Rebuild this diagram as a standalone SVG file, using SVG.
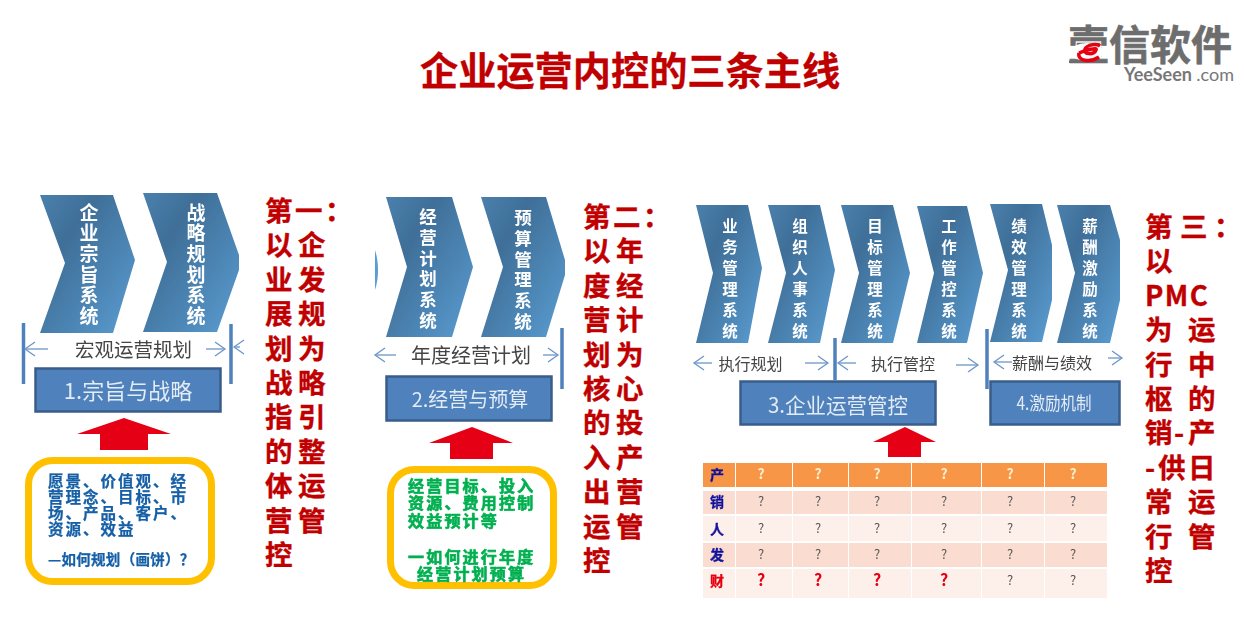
<svg xmlns="http://www.w3.org/2000/svg" width="1244" height="625" viewBox="0 0 1244 625">
<style>
text{font-family:"Noto Sans CJK SC","Noto Sans",sans-serif}
.title{font-size:38.200px;font-weight:700;fill:#c00000;stroke:#c00000;stroke-width:.3}
.side{font-size:27.500px;font-weight:700;fill:#c00000;stroke:#c00000;stroke-width:.35}
.v1,.v2,.v3{font-weight:700;fill:#fff;writing-mode:vertical-rl}
.v1{font-size:19px;letter-spacing:1.6px}
.v2{font-size:17.500px;letter-spacing:3.2px}
.v3{font-size:15.500px;letter-spacing:5.500px}
.lab{fill:#444;text-anchor:middle}
.boxt{fill:#e3ebf5;text-anchor:middle}
.box{fill:#4f81bd;stroke:#385d8a;stroke-width:2.5}
.round{fill:#fff;stroke:#ffc000;stroke-width:7}
.chev{fill:url(#cg)}
.bar{stroke:#4f81bd;stroke-width:3.5}
.arr{stroke:#6d95c8;stroke-width:1.3;fill:none;marker-end:url(#open)}
.red{fill:#e60012}
.blue{font-size:15.500px;letter-spacing:2px;font-weight:700;fill:#135fa6;stroke:#135fa6;stroke-width:.25}
.blue2{font-size:14.500px;letter-spacing:.3px;font-weight:700;fill:#135fa6;stroke:#135fa6;stroke-width:.25}
.green{font-size:16px;letter-spacing:2.200px;font-weight:700;fill:#00b050;stroke:#00b050;stroke-width:.6}
.hd{fill:#f79646}.r1{fill:#fbdcd0}.r2{fill:#fdefe9}
.rowl{font-size:14px;font-weight:700;fill:#12129c;stroke:#12129c;stroke-width:.3;text-anchor:middle}
.q{font-size:13px;fill:#555;text-anchor:middle}
.qh{font-size:14px;font-weight:700;fill:#fdeecb;text-anchor:middle}
.qr{font-size:16px;font-weight:700;fill:#e60012;text-anchor:middle}
</style>
<defs>
<linearGradient id="cg" x1="0" y1="0" x2="1" y2="1">
<stop offset="0" stop-color="#4a80ad"/><stop offset=".3" stop-color="#3f6f98"/><stop offset="1" stop-color="#5a9dd2"/>
</linearGradient>
<marker id="open" markerUnits="userSpaceOnUse" markerWidth="14" markerHeight="16" refX="12" refY="8" orient="auto">
<path d="M2 1L12 8L2 15" fill="none" stroke="#6d95c8" stroke-width="1.3"/>
</marker>
<filter id="soft" x="-2%" y="-2%" width="104%" height="104%"><feGaussianBlur stdDeviation="0.45"/></filter>
</defs>

<text class="title" x="420" y="85">企业运营内控的三条主线</text>

<g id="logo">
<text x="1068" y="60" font-size="41" font-weight="700" fill="#6d6d6d" stroke="#6d6d6d" stroke-width=".6">壹信软件</text>
<ellipse cx="1087" cy="52" rx="17" ry="9" fill="#fff"/>
<rect x="1069" y="60.500" width="36" height="2.500" fill="#6d6d6d"/>
<path d="M1079 53C1086 50 1098 47 1096 50C1094 55 1083 55 1085 49C1087 45 1096 43 1100 46M1079 53C1077 61 1090 63 1099 57" fill="none" stroke="#e60012" stroke-width="3.500"/>
<text x="1124" y="81" font-size="18" font-weight="700" fill="#777" style="font-family:Lato,sans-serif">YeeSeen <tspan font-weight="400">.com</tspan></text>
</g>

<g id="section-1" filter="url(#soft)">
<g id="chevron-1-1"><polygon class="chev" points="40,195 113,195 135,260 113,333 40,333 65,263"/><text class="v1" x="89" y="203">企业宗旨系统</text></g>
<g id="chevron-1-2"><polygon class="chev" points="143,193 217,193 239,255 239,270 217,332 143,332 167,262"/><text class="v1" x="196" y="203">战略规划系统</text></g>
<text class="lab" x="133.500" y="357" font-size="19.500">宏观运营规划</text>
<g id="box-1"><rect class="box" x="35.500" y="368.500" width="185" height="43"/><text class="boxt" x="128" y="399" font-size="22">1.宗旨与战略</text></g>
<g id="note-1"><rect class="round" x="28.500" y="460.500" width="183" height="121" rx="24"/>
<text class="blue" x="48" y="487">愿景、价值观、经</text><text class="blue" x="48" y="503">营理念、目标、市</text><text class="blue" x="48" y="519">场、产品、客户、</text><text class="blue" x="48" y="535">资源、效益</text>
<text class="blue2" x="48" y="565">—如何规划（画饼）？</text></g>
</g>

<g id="section-2" filter="url(#soft)">
<g id="chevron-2-0"><path d="M375 250C379 262 379 278 375 290Z" fill="#5a9dd2"/></g>
<g id="chevron-2-1"><polygon class="chev" points="386,197 452,197 473,267 452,337 386,337 407,267"/><text class="v2" x="428" y="208">经营计划系统</text></g>
<g id="chevron-2-2"><polygon class="chev" points="481,197 546,197 565,260 565,275 546,337 481,337 503,267"/><text class="v2" x="523" y="209">预算管理系统</text></g>
<text class="lab" x="471" y="363" font-size="20">年度经营计划</text>
<g id="box-2"><rect class="box" x="386.500" y="376.500" width="165" height="44"/><text class="boxt" x="470" y="407" font-size="20">2.经营与预算</text></g>
<g id="note-2"><rect class="round" x="390.500" y="469.500" width="163" height="116" rx="24"/>
<text class="green" x="408" y="492">经营目标、投入</text><text class="green" x="408" y="509">资源、费用控制</text><text class="green" x="408" y="527">效益预计等</text>
<text class="green" x="408" y="563">一如何进行年度</text><text class="green" x="417" y="580">经营计划预算</text></g>
</g>

<g id="section-3" filter="url(#soft)">
<g id="chevron-3-1"><polygon class="chev" points="696,205 748,205 762,268 748,343 696,343 713,273"/><text class="v3" x="730" y="218">业务管理系统</text></g>
<g id="chevron-3-2"><polygon class="chev" points="768,205 820,205 835,270 820,343 768,343 786,273"/><text class="v3" x="800" y="218">组织人事系统</text></g>
<g id="chevron-3-3"><polygon class="chev" points="841,205 893,205 910,273 893,343 841,343 859,273"/><text class="v3" x="875" y="218">目标管理系统</text></g>
<g id="chevron-3-4"><polygon class="chev" points="917,206 967,206 983,273 967,343 917,343 934,273"/><text class="v3" x="949" y="218">工作管控系统</text></g>
<g id="chevron-3-5"><polygon class="chev" points="990,204 1042,204 1052,245 1052,300 1042,342 990,342 1008,270"/><text class="v3" x="1019" y="218">绩效管理系统</text></g>
<g id="chevron-3-6"><polygon class="chev" points="1057,205 1110,205 1120,240 1120,300 1110,343 1057,343 1075,273"/><text class="v3" x="1090" y="218">薪酬激励系统</text></g>
<text class="lab" x="750.500" y="370" font-size="16">执行规划</text>
<text class="lab" x="903" y="370" font-size="16">执行管控</text>
<text class="lab" x="1052" y="369" font-size="16">薪酬与绩效</text>
<g id="box-3"><rect class="box" x="740.500" y="381.500" width="195" height="43"/><text class="boxt" x="838" y="413" font-size="21" textLength="140" lengthAdjust="spacingAndGlyphs">3.企业运营管控</text></g>
<g id="box-4"><rect class="box" x="990.500" y="381.500" width="129" height="43"/><text class="boxt" x="1054" y="410" font-size="18" textLength="75" lengthAdjust="spacingAndGlyphs">4.激励机制</text></g>
</g>

<g id="connectors" filter="url(#soft)">
<line class="bar" x1="23.500" y1="323" x2="23.500" y2="384"/>
<line class="bar" x1="231" y1="324" x2="231" y2="384"/>
<line class="arr" x1="48" y1="349" x2="25" y2="349"/>
<line class="arr" x1="206" y1="349" x2="225" y2="349"/>
<line class="arr" x1="240" y1="347" x2="234" y2="347"/>
<polygon class="red" points="124,418 171,434 148,434 148,450 100,450 100,434 77,434"/>
<line class="bar" x1="562" y1="328" x2="562" y2="389"/>
<line class="arr" x1="396" y1="355" x2="375" y2="355"/>
<line class="arr" x1="543" y1="355" x2="558" y2="355"/>
<polygon class="red" points="472,427 513,443 493,443 493,459 450,459 450,443 429,443"/>
<line class="bar" x1="835" y1="338" x2="835" y2="380"/>
<line class="bar" x1="987" y1="329" x2="987" y2="389"/>
<line class="arr" x1="712" y1="363" x2="694" y2="363"/>
<line class="arr" x1="805" y1="363" x2="828" y2="363"/>
<line class="arr" x1="856" y1="363" x2="838" y2="363"/>
<line class="arr" x1="956" y1="365" x2="978" y2="365"/>
<line class="arr" x1="1012" y1="362" x2="994" y2="362"/>
<line class="arr" x1="1108" y1="358" x2="1122" y2="358"/>
<polygon class="red" points="905,427 936,442 921,442 921,457 888,457 888,442 873,442"/>
</g>

<g id="table" filter="url(#soft)">
<g class="hd"><rect x="703" y="463" width="32" height="24"/><rect x="736" y="463" width="56" height="24"/><rect x="793" y="463" width="55" height="24"/><rect x="849" y="463" width="62" height="24"/><rect x="912" y="463" width="69" height="24"/><rect x="982" y="463" width="62" height="24"/><rect x="1045" y="463" width="62" height="24"/></g>
<g class="r1"><rect x="703" y="491" width="32" height="23"/><rect x="736" y="491" width="56" height="23"/><rect x="793" y="491" width="55" height="23"/><rect x="849" y="491" width="62" height="23"/><rect x="912" y="491" width="69" height="23"/><rect x="982" y="491" width="62" height="23"/><rect x="1045" y="491" width="62" height="23"/></g>
<g class="r2"><rect x="703" y="516" width="32" height="25"/><rect x="736" y="516" width="56" height="25"/><rect x="793" y="516" width="55" height="25"/><rect x="849" y="516" width="62" height="25"/><rect x="912" y="516" width="69" height="25"/><rect x="982" y="516" width="62" height="25"/><rect x="1045" y="516" width="62" height="25"/></g>
<g class="r1"><rect x="703" y="543" width="32" height="24"/><rect x="736" y="543" width="56" height="24"/><rect x="793" y="543" width="55" height="24"/><rect x="849" y="543" width="62" height="24"/><rect x="912" y="543" width="69" height="24"/><rect x="982" y="543" width="62" height="24"/><rect x="1045" y="543" width="62" height="24"/></g>
<g class="r2"><rect x="703" y="569" width="32" height="29"/><rect x="736" y="569" width="56" height="29"/><rect x="793" y="569" width="55" height="29"/><rect x="849" y="569" width="62" height="29"/><rect x="912" y="569" width="69" height="29"/><rect x="982" y="569" width="62" height="29"/><rect x="1045" y="569" width="62" height="29"/></g>
<text class="rowl" x="717" y="480">产</text><text class="rowl" x="717" y="507">销</text><text class="rowl" x="717" y="534">人</text><text class="rowl" x="717" y="560">发</text><text class="rowl" x="717" y="586" style="fill:#e60012;stroke:#e60012">财</text>
<text class="qh" x="761" y="479">?</text><text class="qh" x="818" y="479">?</text><text class="qh" x="877" y="479">?</text><text class="qh" x="944" y="479">?</text><text class="qh" x="1010" y="479">?</text><text class="qh" x="1073" y="479">?</text>
<text class="q" x="761" y="506">?</text><text class="q" x="818" y="506">?</text><text class="q" x="877" y="506">?</text><text class="q" x="944" y="506">?</text><text class="q" x="1010" y="506">?</text><text class="q" x="1073" y="506">?</text>
<text class="q" x="761" y="533">?</text><text class="q" x="818" y="533">?</text><text class="q" x="877" y="533">?</text><text class="q" x="944" y="533">?</text><text class="q" x="1010" y="533">?</text><text class="q" x="1073" y="533">?</text>
<text class="q" x="761" y="559">?</text><text class="q" x="818" y="559">?</text><text class="q" x="877" y="559">?</text><text class="q" x="944" y="559">?</text><text class="q" x="1010" y="559">?</text><text class="q" x="1073" y="559">?</text>
<text class="qr" x="761" y="586">?</text><text class="qr" x="818" y="586">?</text><text class="qr" x="877" y="586">?</text><text class="qr" x="944" y="586">?</text><text class="q" x="1010" y="585">?</text><text class="q" x="1073" y="585">?</text>
</g>

<g id="side-1">
<text class="side" x="265 295 325" y="221">第一：</text>
<text class="side" x="265 298" y="255.400">以企</text>
<text class="side" x="265 298" y="289.800">业发</text>
<text class="side" x="265 298" y="324.200">展规</text>
<text class="side" x="265 298" y="358.600">划为</text>
<text class="side" x="265 298" y="393">战略</text>
<text class="side" x="265 298" y="427.400">指引</text>
<text class="side" x="265 298" y="461.800">的整</text>
<text class="side" x="265 298" y="496.200">体运</text>
<text class="side" x="265 298" y="530.600">营管</text>
<text class="side" x="265" y="565">控</text>
</g>
<g id="side-2">
<text class="side" x="583 613 643" y="227">第二：</text>
<text class="side" x="583 616" y="261.400">以年</text>
<text class="side" x="583 616" y="295.800">度经</text>
<text class="side" x="583 616" y="330.200">营计</text>
<text class="side" x="583 616" y="364.600">划为</text>
<text class="side" x="583 616" y="399">核心</text>
<text class="side" x="583 616" y="433.400">的投</text>
<text class="side" x="583 616" y="467.800">入产</text>
<text class="side" x="583 616" y="502.200">出营</text>
<text class="side" x="583 616" y="536.600">运管</text>
<text class="side" x="583" y="571">控</text>
</g>
<g id="side-3">
<text class="side" x="1145 1180 1214" y="237">第三：</text>
<text class="side" x="1145" y="271.400">以</text>
<text class="side" x="1145" y="305.800" style="letter-spacing:1.500px">PMC</text>
<text class="side" x="1145 1188" y="340.200">为运</text>
<text class="side" x="1145 1188" y="374.600">行中</text>
<text class="side" x="1145 1188" y="409">枢的</text>
<text class="side" x="1145 1174 1188" y="443.400">销-产</text>
<text class="side" x="1145 1158 1188" y="477.800">-供日</text>
<text class="side" x="1145 1188" y="512.200">常运</text>
<text class="side" x="1145 1188" y="546.600">行管</text>
<text class="side" x="1145" y="581">控</text>
</g>
</svg>
